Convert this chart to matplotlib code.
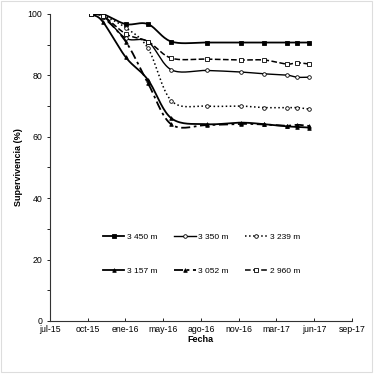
import numpy as np
import matplotlib.pyplot as plt
from matplotlib.patches import Rectangle

# fechas de muestreo (posicion en unidades de tick del eje x)
fechas = [1.09, 1.40, 2.01, 2.60, 3.22, 4.15, 5.05, 5.68, 6.27, 6.55, 6.87]
etiquetas_x = ['jul-15', 'oct-15', 'ene-16', 'may-16', 'ago-16', 'nov-16', 'mar-17', 'jun-17', 'sep-17']

s3450 = [100, 100, 96.7, 96.7, 91.0, 90.7, 90.7, 90.7, 90.7, 90.7, 90.7]
s3350 = [100, 99.5, 92.1, 91.0, 81.8, 81.6, 81.1, 80.5, 80.1, 79.4, 79.4]
s3239 = [100, 99.5, 95.5, 88.8, 71.7, 70.0, 70.0, 69.5, 69.5, 69.5, 69.0]
s3157 = [100, 97.5, 85.9, 78.5, 66.0, 64.1, 64.6, 64.1, 63.4, 63.2, 63.0]
s3052 = [100, 99.0, 91.0, 77.4, 64.0, 63.8, 64.2, 64.0, 63.6, 63.9, 63.5]
s2960 = [100, 99.5, 93.5, 91.0, 85.6, 85.3, 85.0, 85.0, 83.7, 84.1, 83.7]


def suavizar(x, y, n=20):
    # curva suavizada tipo Excel (Catmull-Rom)
    x = np.asarray(x, float)
    y = np.asarray(y, float)
    px = np.concatenate([[2 * x[0] - x[1]], x, [2 * x[-1] - x[-2]]])
    py = np.concatenate([[2 * y[0] - y[1]], y, [2 * y[-1] - y[-2]]])
    xs, ys = [], []
    t = np.linspace(0, 1, n)
    for i in range(1, len(px) - 2):
        p0, p1, p2, p3 = [np.array([px[j], py[j]]) for j in range(i - 1, i + 3)]
        m1 = (p2 - p0) / 6
        m2 = (p3 - p1) / 6
        c1 = p1 + m1
        c2 = p2 - m2
        pts = ((1 - t) ** 3)[:, None] * p1 + (3 * (1 - t) ** 2 * t)[:, None] * c1 \
            + (3 * (1 - t) * t ** 2)[:, None] * c2 + (t ** 3)[:, None] * p2
        xs.extend(pts[:, 0])
        ys.extend(pts[:, 1])
    return xs, ys


plt.rcParams['font.family'] = ['Liberation Sans', 'DejaVu Sans']

fig = plt.figure(figsize=(3.78, 3.78), dpi=100)
fig.patches.append(Rectangle((0.002, 0.016), 0.982, 0.982, transform=fig.transFigure,
                             fill=False, edgecolor='#dddddd', lw=0.8))
ax = fig.add_axes([0.132, 0.151, 0.799, 0.812])

series = [
    ('3 450 m', s3450, '-', 's', 'black', 1.3),
    ('3 350 m', s3350, '-', 'o', 'white', 1.0),
    ('3 239 m', s3239, ':', 'o', 'white', 1.1),
    ('3 157 m', s3157, '-', '^', 'black', 1.3),
    ('3 052 m', s3052, (0, (5, 2, 1.5, 2)), '^', 'black', 1.3),
    ('2 960 m', s2960, '--', 's', 'white', 1.1),
]

handles = {}
for nombre, vals, ls, mk, mfc, lw in series:
    sx, sy = suavizar(fechas, vals)
    ax.plot(sx, sy, color='black', ls=ls, lw=lw)
    ax.plot(fechas, vals, ls='none', marker=mk, ms=2.6, mfc=mfc, mec='black', mew=0.6)
    h, = ax.plot([], [], color='black', ls=ls, lw=lw, marker=mk, ms=2.6, mfc=mfc,
                 mec='black', mew=0.6, label=nombre)
    handles[nombre] = h

ax.set_xlim(0, 8)
ax.set_ylim(0, 100)
ax.set_xticks(range(9))
ax.set_xticklabels(etiquetas_x)
ax.set_yticks(range(0, 101, 20))
ax.set_yticks(range(10, 100, 20), minor=True)
ax.tick_params(axis='x', direction='in', length=2, labelsize=6.3, width=0.6, pad=3)
ax.tick_params(axis='y', which='both', direction='out', length=2, labelsize=6.3, width=0.6)
ax.spines['top'].set_visible(False)
ax.spines['right'].set_visible(False)
for s in ['left', 'bottom']:
    ax.spines[s].set_linewidth(0.8)
    ax.spines[s].set_color('#333333')

ax.set_xlabel('Fecha', fontsize=6.5, fontweight='bold', labelpad=1)
ax.set_ylabel('Supervivencia (%)', fontsize=6.5, fontweight='bold', labelpad=3)

# orden por filas: 3450, 3350, 3239 / 3157, 3052, 2960
orden = ['3 450 m', '3 157 m', '3 350 m', '3 052 m', '3 239 m', '2 960 m']
ax.legend([handles[k] for k in orden], orden, loc='upper left', bbox_to_anchor=(0.15, 0.31),
          ncol=3, frameon=False, fontsize=6, handlelength=2.6, handletextpad=0.3,
          columnspacing=2.0, labelspacing=3.1)

fig.savefig('out.png', dpi=100)
